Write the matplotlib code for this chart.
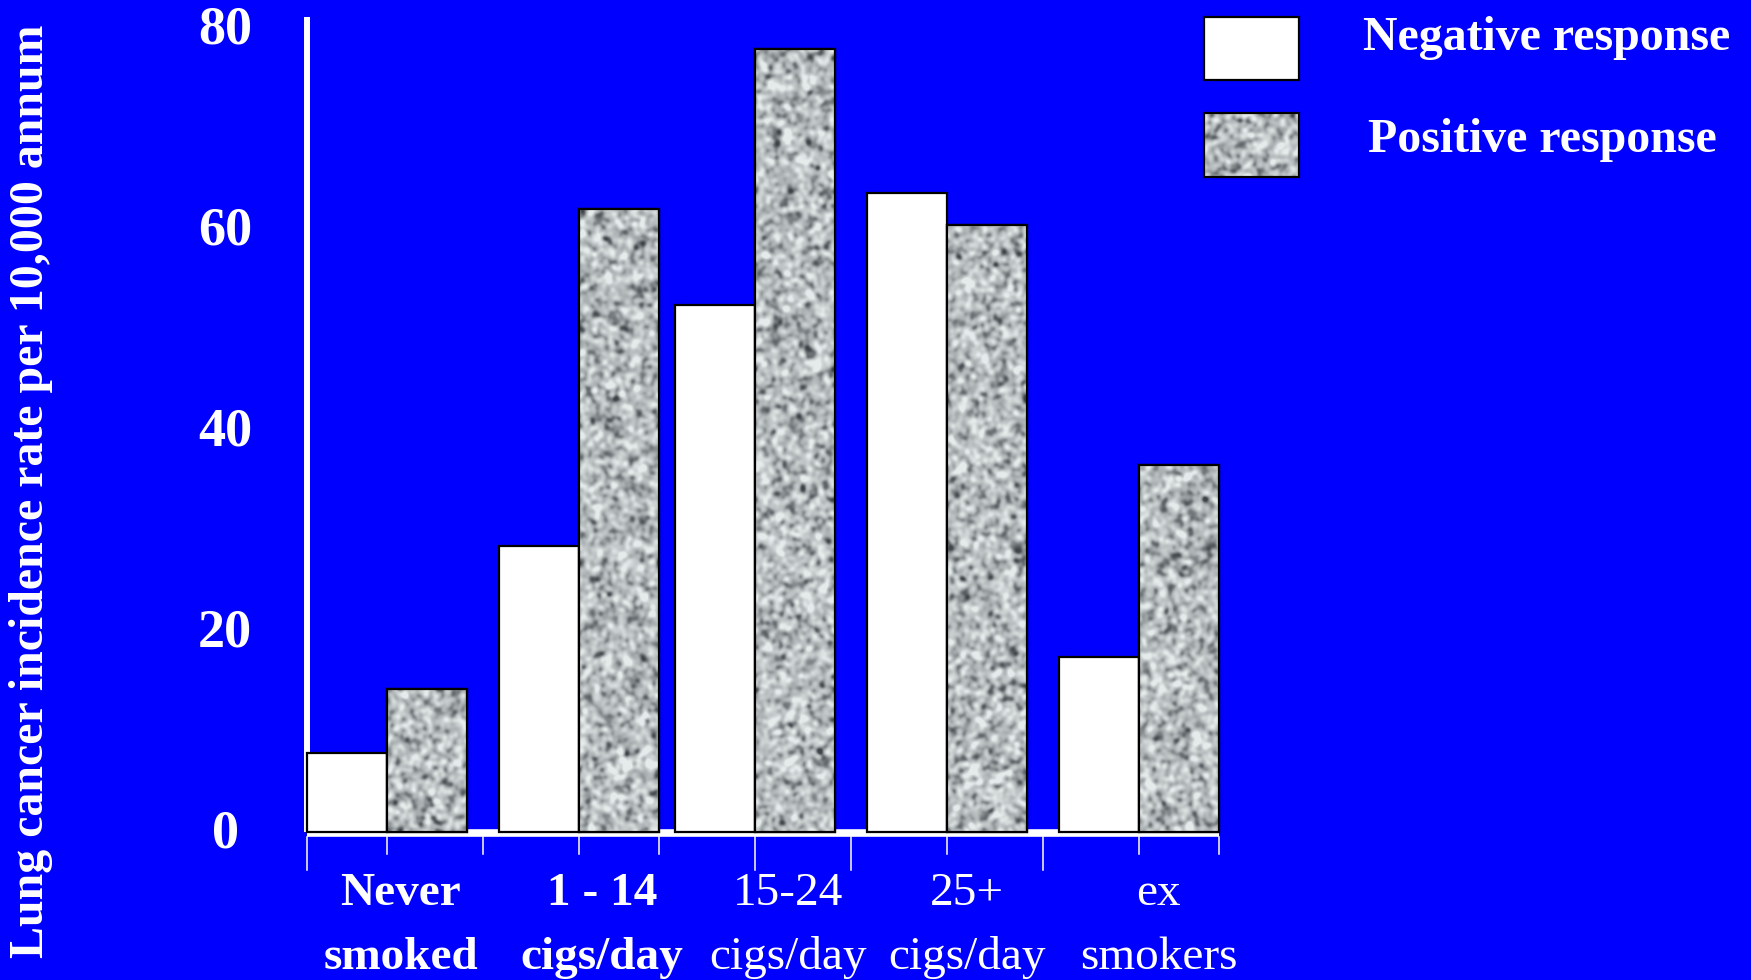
import numpy as np
import matplotlib
matplotlib.use("Agg")
import matplotlib.pyplot as plt
from matplotlib.patches import Rectangle
from matplotlib.colors import LinearSegmentedColormap
from matplotlib.transforms import blended_transform_factory

# ---------------- data ----------------
cat_line1 = ["Never", "1 - 14", "15-24", "25+", "ex"]
cat_line2 = ["smoked", "cigs/day", "cigs/day", "cigs/day", "smokers"]
negative = [7.9, 28.5, 52.4, 63.5, 17.4]
positive = [14.2, 62.0, 77.9, 60.4, 36.5]
series_names = ["Negative response", "Positive response"]
yticks = [0, 20, 40, 60, 80]
ylabel = "Lung cancer incidence rate per 10,000 annum"

# ---------------- layout / style ----------------
group_start = [0.0, 2.4, 4.6, 7.0, 9.4]
label_x = [1.17, 3.68, 6.01, 8.24, 10.64]
label_bold = [True, True, False, False, False]
tick_x = [0.0, 1.0, 2.2, 3.4, 4.4, 5.6, 6.8, 8.0, 9.2, 10.4, 11.4]
long_tick = [True, False, False, False, False, True, True, False, True, False, False]

BLUE = "#0000FF"
W, H, DPI = 1751, 980, 100
PX_X = 80.0      # px per x unit
PX_Y = 10.06     # px per y unit
X0_PX = 307.3    # x=0 in px from left
Y0_PX = 832.3    # y=0 in px from top
SERIF = ["Liberation Serif", "DejaVu Serif"]

fig = plt.figure(figsize=(W / DPI, H / DPI), dpi=DPI, facecolor=BLUE)

xlim = (-3.0, 12.5)
ylim = (-6.0, 82.0)
left = X0_PX + xlim[0] * PX_X
bottom = (H - Y0_PX) + ylim[0] * PX_Y
ax = fig.add_axes([left / W, bottom / H,
                   (xlim[1] - xlim[0]) * PX_X / W,
                   (ylim[1] - ylim[0]) * PX_Y / H])
ax.set_facecolor(BLUE)
for s in ax.spines.values():
    s.set_visible(False)
ax.set_xticks([])
ax.set_yticks([])

# overlay axes in pixel coordinates (for legend and label baselines)
ov = fig.add_axes([0, 0, 1, 1], facecolor="none")
ov.set_xlim(0, W)
ov.set_ylim(H, 0)
ov.axis("off")


def texture(h_px, w_px, seed):
    rng = np.random.default_rng(seed)
    n = rng.standard_normal((h_px, w_px))
    fy = np.fft.fftfreq(h_px)[:, None]
    fx = np.fft.fftfreq(w_px)[None, :]
    sigma = 2.2
    g = np.exp(-2 * (np.pi * sigma) ** 2 * (fx ** 2 + fy ** 2))
    sm = np.real(np.fft.ifft2(np.fft.fft2(n) * g))
    sm = (sm - sm.mean()) / sm.std()
    return np.clip(0.62 + 0.2 * sm, 0, 1)


tex_cmap = LinearSegmentedColormap.from_list(
    "tex", [(0.0, (0.25, 0.27, 0.29)), (0.5, (0.66, 0.68, 0.69)),
            (1.0, (0.90, 0.92, 0.92))])

# axis lines
ax.plot([0.0, 11.4], [-0.1, -0.1], color="white", lw=5.5,
        solid_capstyle="butt", zorder=1)
ax.plot([0, 0], [0, 81.0], color="white", lw=4.3, solid_capstyle="butt", zorder=1)

# bars
gs = np.array(group_start)
neg_bars = ax.bar(gs, negative, width=1.0, align="edge", color="white",
                  edgecolor="black", linewidth=1.6, zorder=3)
pos_bars = ax.bar(gs + 1.0, positive, width=1.0, align="edge", color=(0.67, 0.69, 0.70),
                  edgecolor="black", linewidth=1.6, zorder=3)
for i, b in enumerate(pos_bars):
    x0, y0 = b.get_x(), b.get_y()
    bw, bh = b.get_width(), b.get_height()
    tex = texture(max(int(bh * PX_Y), 4), int(bw * PX_X), 10 + i)
    im = ax.imshow(tex, extent=(x0, x0 + bw, y0, y0 + bh), cmap=tex_cmap,
                   vmin=0, vmax=1, aspect="auto", interpolation="bilinear",
                   origin="lower", zorder=3.5)
    im.set_clip_path(b)
    edge = Rectangle((x0, y0), bw, bh, facecolor="none", edgecolor="black",
                     linewidth=1.6, zorder=4)
    ax.add_patch(edge)

# ticks below x axis
for tx, lg in zip(tick_x, long_tick):
    ln = 3.25 if lg else 1.7
    ax.plot([tx, tx], [-0.5, -0.5 - ln], color="white", lw=1.1, zorder=1)

ax.set_xlim(*xlim)
ax.set_ylim(*ylim)

# y tick labels
ytick_x = (225 - X0_PX) / PX_X
for v in yticks:
    ax.text(ytick_x, v - 0.25, str(v), ha="center", va="center", color="white",
            fontsize=39, fontweight="bold", family=SERIF)

# y label
fig.text(31 / W, 1 - 491 / H, ylabel, rotation=90, ha="center", va="center",
         color="white", fontsize=34.5, fontweight="bold", family=SERIF)

# category labels
bt = blended_transform_factory(ax.transData, ov.transData)
for lx, l1, l2, bold in zip(label_x, cat_line1, cat_line2, label_bold):
    fw = "bold" if bold else "normal"
    ax.text(lx, 905, l1, transform=bt, ha="center", va="baseline", color="white",
            fontsize=34, fontweight=fw, family=SERIF)
    ax.text(lx, 969, l2, transform=bt, ha="center", va="baseline", color="white",
            fontsize=34, fontweight=fw, family=SERIF)

# legend (manual)
ov.add_patch(Rectangle((1204, 17), 95, 63, facecolor="white", edgecolor="black",
                       linewidth=1.6, zorder=3))
ltex = texture(64, 95, 99)
lim = ov.imshow(ltex, extent=(1204, 1299, 177, 113), cmap=tex_cmap, vmin=0, vmax=1,
                aspect="auto", interpolation="bilinear", zorder=3)
ov.add_patch(Rectangle((1204, 113), 95, 64, facecolor="none", edgecolor="black",
                       linewidth=1.6, zorder=4))
ov.set_xlim(0, W)
ov.set_ylim(H, 0)
ov.text(1547, 50, series_names[0], ha="center", va="baseline", color="white",
        fontsize=34.5, fontweight="bold", family=SERIF)
ov.text(1542, 152, series_names[1], ha="center", va="baseline", color="white",
        fontsize=34.5, fontweight="bold", family=SERIF)

fig.savefig("out.png", dpi=DPI, facecolor=BLUE)
